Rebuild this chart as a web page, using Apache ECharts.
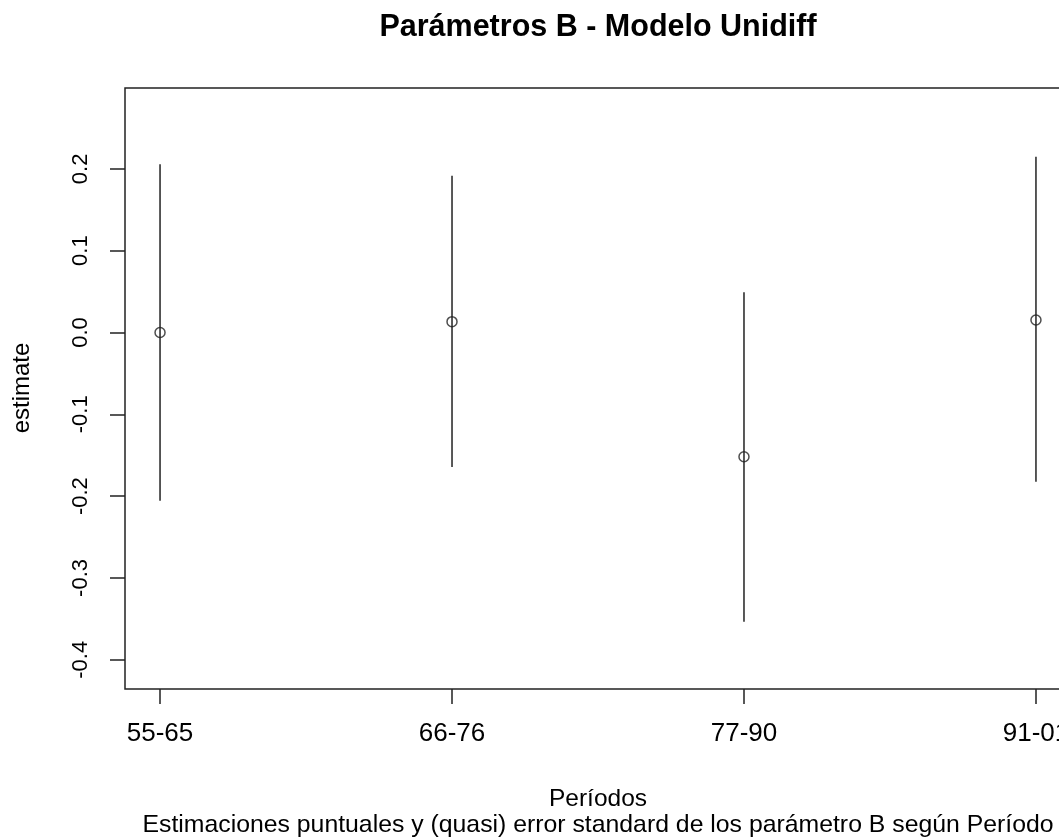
<!DOCTYPE html>
<html>
<head>
<meta charset="utf-8">
<script src="https://cdn.jsdelivr.net/npm/echarts@6.0.0/dist/echarts.min.js"></script>
<style>
  html, body { margin: 0; padding: 0; background: #fff; }
  #chart { width: 1059px; height: 840px; }
</style>
</head>
<body>
<div id="chart"></div>
<script>
// periods and the B parameter estimates with their (quasi) error bars
var periods = ['55-65', '66-76', '77-90', '91-01'];
var estimates = [0, 0.0132, -0.1518, 0.0153];
var lower = [-0.2055, -0.1645, -0.3534, -0.1823];
var upper = [0.2055, 0.1916, 0.0491, 0.2149];
var yTicks = [-0.4, -0.3, -0.2, -0.1, 0, 0.1, 0.2];
var xTicks = [1, 2, 3, 4];

var font = "'Liberation Sans', Arial, sans-serif";
var ink = '#222';

var pointData = [];
var barData = [];
for (var i = 0; i < periods.length; i++) {
  pointData.push([i + 1, estimates[i]]);
  barData.push([i + 1, lower[i], upper[i]]);
}

var chart = echarts.init(document.getElementById('chart'));

var option = {
  animation: false,
  backgroundColor: '#fff',
  grid: {
    left: 125, top: 88, width: 946, height: 601,
    outerBoundsMode: 'none',
    containLabel: false,
    show: true, borderColor: ink, borderWidth: 1.5, backgroundColor: 'transparent'
  },
  xAxis: {
    type: 'value',
    min: 0.88, max: 4.12,
    name: 'Períodos',
    nameLocation: 'middle',
    nameGap: 98,
    nameTextStyle: { fontFamily: font, fontSize: 24.5, color: '#000' },
    axisLine: { show: false, onZero: false },
    splitLine: { show: false },
    axisTick: { show: true, length: 15, customValues: xTicks, lineStyle: { color: ink, width: 1.5 } },
    axisLabel: {
      customValues: xTicks,
      margin: 32,
      fontFamily: font, fontSize: 26, color: '#000',
      formatter: function (v) { return periods[Math.round(v) - 1]; }
    }
  },
  yAxis: {
    type: 'value',
    min: -0.4357, max: 0.2988,
    axisLine: { show: false, onZero: false },
    splitLine: { show: false },
    axisTick: { show: true, length: 15, customValues: yTicks, lineStyle: { color: ink, width: 1.5 } },
    axisLabel: {
      customValues: yTicks,
      rotate: 90,
      margin: 33,
      fontFamily: font, fontSize: 22, color: '#000',
      formatter: function (v) { return v.toFixed(1); }
    }
  },
  graphic: [
    {
      type: 'text', x: 598, y: 28,
      style: { text: 'Parámetros B - Modelo Unidiff', fontFamily: font, fontSize: 30.5, fontWeight: 'bold',
               fill: '#000', textAlign: 'center', textVerticalAlign: 'middle' }
    },
    {
      type: 'text', x: 22, y: 388, rotation: Math.PI / 2,
      style: { text: 'estimate', fontFamily: font, fontSize: 24, fill: '#000',
               textAlign: 'center', textVerticalAlign: 'middle' }
    },
    {
      type: 'text', x: 598, y: 825,
      style: { text: 'Estimaciones puntuales y (quasi) error standard de los parámetro B según Período',
               fontFamily: font, fontSize: 24.8, fill: '#000', textAlign: 'center', textVerticalAlign: 'middle' }
    }
  ],
  series: [
    {
      type: 'custom',
      data: barData,
      renderItem: function (params, api) {
        var a = api.coord([api.value(0), api.value(1)]);
        var b = api.coord([api.value(0), api.value(2)]);
        return {
          type: 'line',
          shape: { x1: a[0], y1: a[1], x2: b[0], y2: b[1] },
          style: { stroke: ink, lineWidth: 1.5 }
        };
      }
    },
    {
      type: 'scatter',
      data: pointData,
      symbol: 'circle',
      symbolSize: 10,
      itemStyle: { color: 'transparent', borderColor: ink, borderWidth: 1.5 }
    }
  ]
};

chart.setOption(option);
</script>
</body>
</html>
